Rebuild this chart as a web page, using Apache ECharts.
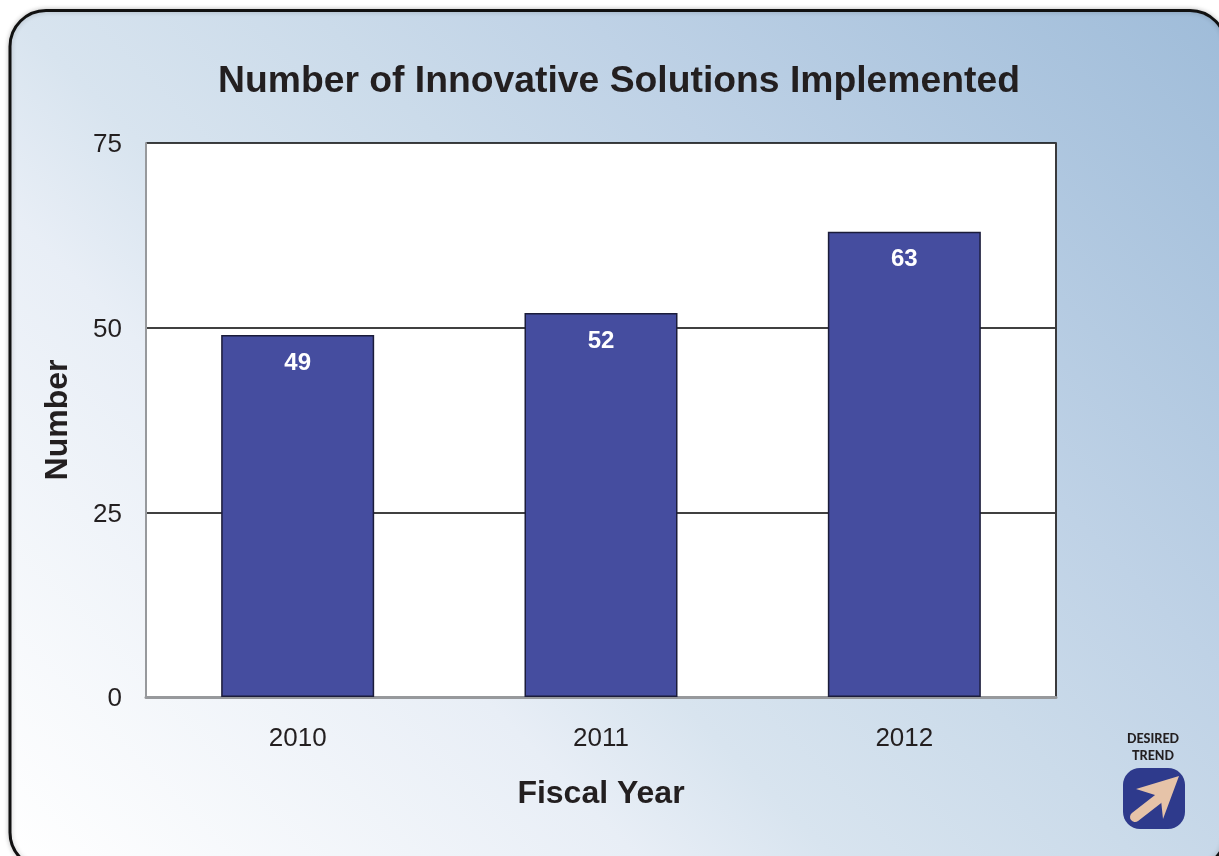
<!DOCTYPE html>
<html>
<head>
<meta charset="utf-8">
<style>html,body{margin:0;padding:0;background:#fff;overflow:hidden}#c{width:1219px;height:856px}</style>
<script src="https://cdn.jsdelivr.net/npm/echarts@6/dist/echarts.min.js"></script>
</head>
<body>
<div id="c"></div>
<script>
const categories = ['2010', '2011', '2012'];
const solutions = [49, 52, 63];
const titleText = 'Number of Innovative Solutions Implemented';
const xName = 'Fiscal Year';
const yName = 'Number';
const yTicks = [0, 25, 50, 75];

const font = '"Liberation Sans", Arial, sans-serif';
const chart = echarts.init(document.getElementById('c'), null, {renderer: 'canvas'});
chart.setOption({
  animation: false,
  backgroundColor: '#ffffff',
  title: {
    text: titleText, left: 213, top: 58,
    textStyle: {fontFamily: font, fontWeight: 'bold', fontSize: 37.3, color: '#231f20'}
  },
  grid: {left: 146, right: 163, top: 143, bottom: 159, show: true, backgroundColor: '#ffffff', borderWidth: 0},
  xAxis: {
    type: 'category', data: categories,
    name: xName, nameLocation: 'middle', nameGap: 81,
    nameTextStyle: {fontFamily: font, fontWeight: 'bold', fontSize: 32, color: '#231f20'},
    axisTick: {show: false},
    axisLine: {show: true, lineStyle: {color: '#97999c', width: 3}},
    axisLabel: {fontFamily: font, fontSize: 26, color: '#231f20', margin: 29}
  },
  yAxis: [{
    type: 'value', min: yTicks[0], max: yTicks[yTicks.length - 1], interval: 25,
    name: yName, nameLocation: 'middle', nameGap: 72, nameRotate: 90,
    nameTextStyle: {fontFamily: font, fontWeight: 'bold', fontSize: 32, color: '#231f20'},
    axisTick: {show: false},
    axisLine: {show: true, lineStyle: {color: '#97999c', width: 2}},
    axisLabel: {
      margin: 24, formatter: '{a|{value}}',
      rich: {a: {fontFamily: font, fontSize: 26, color: '#231f20', padding: [4, 0, 0, 0]}}
    },
    splitLine: {show: true, lineStyle: {color: '#000000', width: 1.5}}
  }, {
    type: 'value', position: 'right', min: 0, max: 75, interval: 25,
    axisTick: {show: false}, axisLabel: {show: false}, splitLine: {show: false},
    axisLine: {show: true, lineStyle: {color: '#3a3a3c', width: 2}}
  }],
  series: [{
    type: 'bar', data: solutions, barWidth: 153,
    itemStyle: {color: '#454d9f', borderColor: '#1b1c3a', borderWidth: 1.5},
    label: {show: true, position: 'insideTop', distance: 16, fontFamily: font, fontWeight: 'bold', fontSize: 24, color: '#ffffff'}
  }],
  graphic: [
    {type: 'rect', z: -10, silent: true,
      shape: {x: 10, y: 10.5, width: 1216, height: 858, r: 36},
      style: {
        fill: new echarts.graphic.LinearGradient(10, 860, 1056, -157, [
          {offset: 0, color: '#ffffff'},
          {offset: 0.31, color: '#e8eef6'},
          {offset: 0.406, color: '#d8e4ef'},
          {offset: 0.555, color: '#cbdbea'},
          {offset: 0.686, color: '#bfd2e6'},
          {offset: 1, color: '#9fbcd9'}
        ], true),
        stroke: '#111111', lineWidth: 3,
        shadowBlur: 5, shadowColor: 'rgba(0,0,0,0.22)'
      }},
    {type: 'text', z: 5, silent: true, style: {
      x: 1153, y: 730, text: 'DESIRED\nTREND', align: 'center', fontFamily: 'Lato, sans-serif', fontWeight: 900, fontSize: 12.5,
      lineHeight: 17, fill: '#231f20'}},
    {type: 'rect', z: 5, silent: true, shape: {x: 1123, y: 768, width: 62, height: 61, r: 17}, style: {fill: '#2e3a8c'}},
    {type: 'line', z: 6, silent: true, shape: {x1: 1135, y1: 817, x2: 1162, y2: 796},
      style: {stroke: '#e6c3a8', lineWidth: 10, lineCap: 'round'}},
    {type: 'polygon', z: 6, silent: true, shape: {points: [[1179, 776], [1136, 789], [1155, 795], [1161, 800], [1163, 819]]}, style: {fill: '#e6c3a8'}}
  ]
});
</script>
</body>
</html>
